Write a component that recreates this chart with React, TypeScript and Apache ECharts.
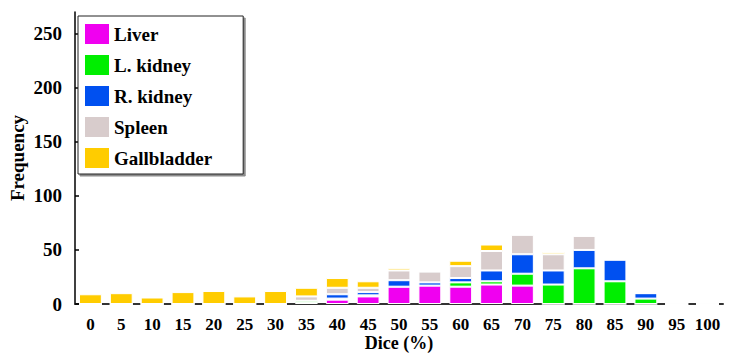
import React, { useEffect, useRef } from "react";
import * as echarts from "echarts";

const categories = ["0","5","10","15","20","25","30","35","40","45","50","55","60","65","70","75","80","85","90","95","100"];
const liver =      [0,0,0,0,0,0,0,1,4,7,16,17,16,18,17,0,0,0,0,0,0];
const lKidney =    [0,0,0,0,0,0,0,2,1,1,0,0,4,3,11,18,33,21,5,0,0];
const rKidney =    [0,0,0,0,0,0,0,0,4,3,6,3,4,10,18,13,17,20,5,0,0];
const spleen =     [0,0,0,0,0,0,0,4,6,4,9,10,11,18,18,15,13,0,0,0,0];
const gallbladder = [9,10,6,11,12,7,12,8,9,6,2,0,5,6,0,2,0,0,0,0,0];
const yTicks = [0, 50, 100, 150, 200, 250];

const seriesDefs = [
  { name: "Liver", data: liver, color: "#F000F0" },
  { name: "L. kidney", data: lKidney, color: "#00EE00" },
  { name: "R. kidney", data: rKidney, color: "#0050F0" },
  { name: "Spleen", data: spleen, color: "#D8CCCC" },
  { name: "Gallbladder", data: gallbladder, color: "#FFCC00" },
];

const FONT = '"Liberation Serif", "Times New Roman", serif';

export default function App() {
  const ref = useRef<HTMLDivElement>(null);
  useEffect(() => {
    document.body.style.margin = "0";
    const chart = echarts.init(ref.current!, undefined, { renderer: "svg" });
    chart.setOption({
      animation: false,
      textStyle: { fontFamily: FONT },
      grid: { left: 75, right: 6, top: 12, bottom: 50, outerBoundsMode: "none", containLabel: false },
      legend: {
        orient: "vertical",
        left: 78,
        top: 16,
        padding: [6, 31, 4, 5],
        itemWidth: 26,
        itemHeight: 22,
        itemGap: 7,
        icon: "rect",
        backgroundColor: "#fff",
        borderColor: "#222",
        borderWidth: 1,
        shadowColor: "rgba(0,0,0,0.45)",
        shadowOffsetX: 2,
        shadowOffsetY: 2,
        shadowBlur: 0,
        textStyle: { fontFamily: FONT, fontWeight: "bold", fontSize: 19, color: "#000", padding: [0, 0, 0, -1] },
        data: seriesDefs.map((s) => s.name),
      },
      xAxis: {
        type: "category",
        data: categories,
        name: "Dice (%)",
        nameLocation: "middle",
        nameGap: 30,
        nameMoveOverlap: false,
        nameTextStyle: { fontFamily: FONT, fontWeight: "bold", fontSize: 18, color: "#000" },
        axisLine: { lineStyle: { color: "#333", width: 2 } },
        axisTick: { inside: true, alignWithLabel: true, length: 6, lineStyle: { color: "#000", width: 1.5 } },
        axisLabel: { fontFamily: FONT, fontWeight: "bold", fontSize: 17, color: "#000", margin: 12, interval: 0 },
      },
      yAxis: {
        type: "value",
        min: 0,
        max: 270,
        name: "Frequency",
        nameLocation: "middle",
        nameGap: 48,
        nameMoveOverlap: false,
        nameTextStyle: { fontFamily: FONT, fontWeight: "bold", fontSize: 19, color: "#000" },
        axisLine: { show: true, lineStyle: { color: "#000", width: 1.5 } },
        axisTick: { show: true, inside: true, length: 4, customValues: yTicks, lineStyle: { color: "#000", width: 1.5 } },
        axisLabel: { fontFamily: FONT, fontWeight: "bold", fontSize: 19, color: "#000", margin: 13, customValues: yTicks },
        splitLine: { show: false },
      },
      series: seriesDefs.map((s) => ({
        name: s.name,
        type: "bar",
        stack: "total",
        data: s.data,
        barWidth: "74%",
        itemStyle: { color: s.color, borderColor: "#fff", borderWidth: 1 },
      })),
    });
    return () => chart.dispose();
  }, []);
  return <div ref={ref} style={{ width: 729, height: 354 }} />;
}
